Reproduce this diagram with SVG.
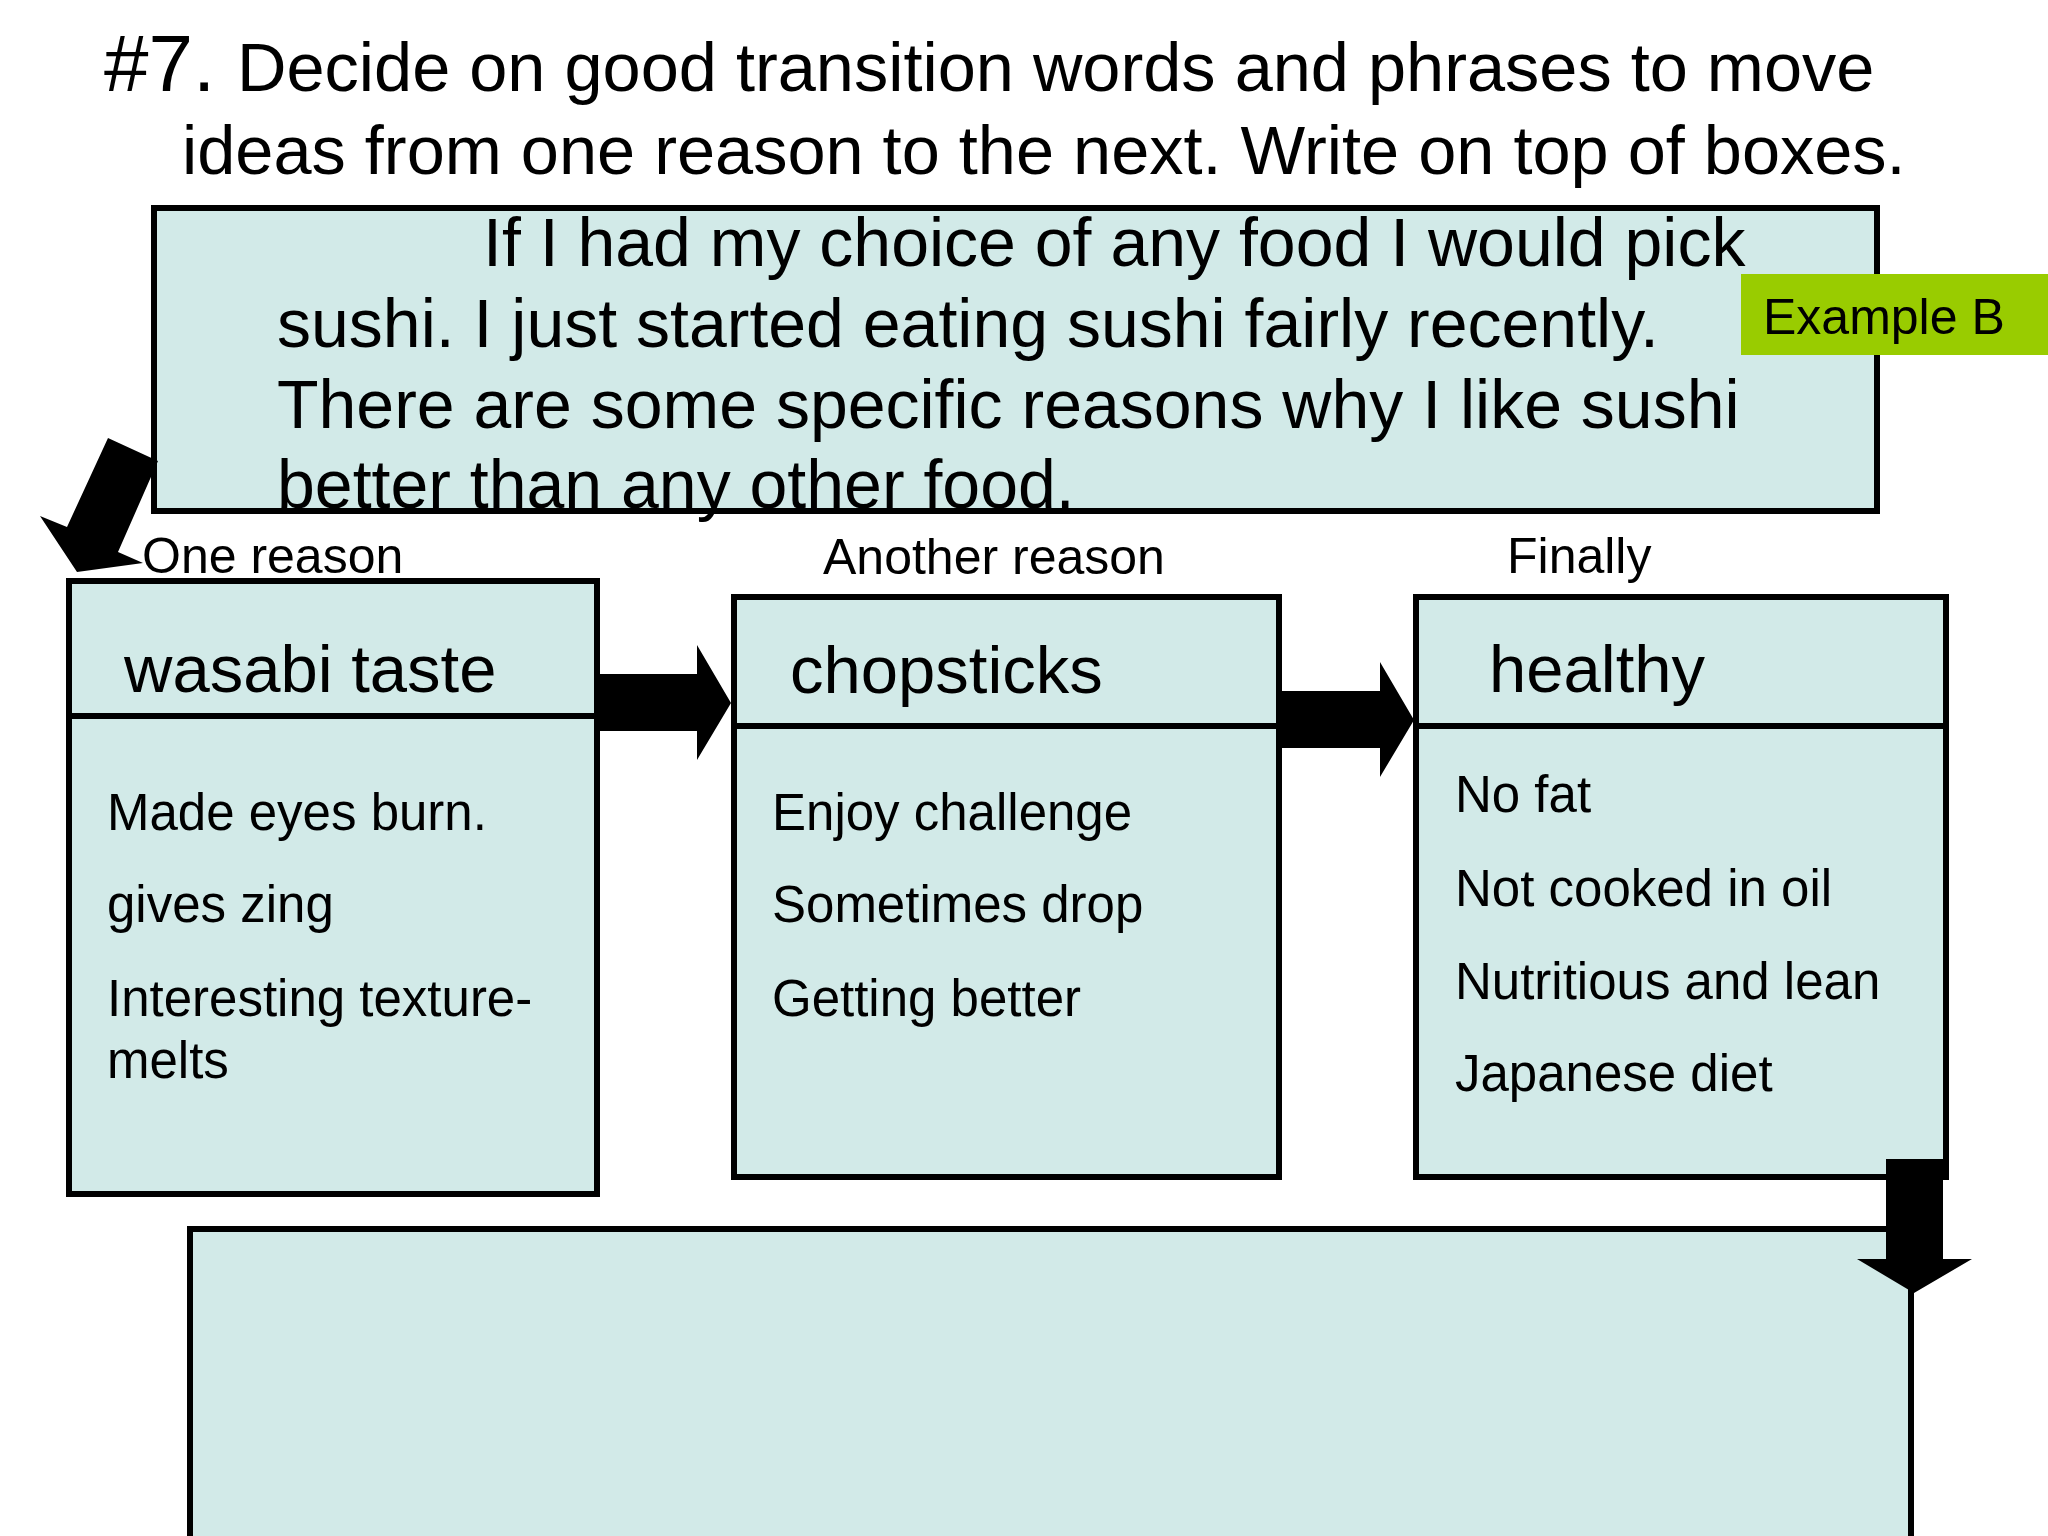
<svg xmlns="http://www.w3.org/2000/svg" width="2048" height="1536" viewBox="0 0 2048 1536">
<style>
text{font-family:"Liberation Sans",Arial,sans-serif;fill:#000}
.box{fill:#d2eae8;stroke:#000;stroke-width:6}
.div{stroke:#000;stroke-width:6}
.title{font-size:68.5px}
.para{font-size:68px}
.head{font-size:67px}
.item{font-size:51px}
.lbl{font-size:50px}
.arrow{fill:#000;stroke:none}
</style>
<rect width="2048" height="1536" fill="#fff"/>
<g id="title">
<text class="title" x="104" y="91"><tspan font-size="80">#7.</tspan><tspan x="237">Decide on good transition words and phrases to move</tspan></text>
<text class="title" x="182" y="174">ideas from one reason to the next. Write on top of boxes.</text>
</g>
<g id="intro">
<rect class="box" x="154" y="208" width="1723" height="303"/>
<text class="para" x="483" y="266">If I had my choice of any food I would pick</text>
<text class="para" x="277" y="347">sushi. I just started eating sushi fairly recently.</text>
<text class="para" x="277" y="428">There are some specific reasons why I like sushi</text>
<text class="para" x="277" y="508">better than any other food.</text>
</g>
<g id="example-b">
<rect x="1741" y="274" width="307" height="81" fill="#99cc00"/>
<text x="1763" y="334" font-size="50">Example B</text>
</g>
<g id="reason1">
<text class="lbl" x="142" y="573">One reason</text>
<rect class="box" x="69" y="581" width="528" height="613"/>
<line class="div" x1="69" y1="716" x2="597" y2="716"/>
<text class="head" x="124" y="692">wasabi taste</text>
<text class="item" x="107" y="830">Made eyes burn.</text>
<text class="item" x="107" y="922">gives zing</text>
<text class="item" x="107" y="1016">Interesting texture-</text>
<text class="item" x="107" y="1078">melts</text>
</g>
<g id="reason2">
<text class="lbl" x="823" y="574">Another reason</text>
<rect class="box" x="734" y="597" width="545" height="580"/>
<line class="div" x1="734" y1="726" x2="1279" y2="726"/>
<text class="head" x="790" y="693">chopsticks</text>
<text class="item" x="772" y="830">Enjoy challenge</text>
<text class="item" x="772" y="922">Sometimes drop</text>
<text class="item" x="772" y="1016">Getting better</text>
</g>
<g id="reason3">
<text class="lbl" x="1507" y="573">Finally</text>
<rect class="box" x="1416" y="597" width="530" height="580"/>
<line class="div" x1="1416" y1="726" x2="1946" y2="726"/>
<text class="head" x="1489" y="692">healthy</text>
<text class="item" x="1455" y="812">No fat</text>
<text class="item" x="1455" y="906">Not cooked in oil</text>
<text class="item" x="1455" y="999">Nutritious and lean</text>
<text class="item" x="1455" y="1091">Japanese diet</text>
</g>
<g id="conclusion">
<rect class="box" x="190" y="1229" width="1721" height="320"/>
</g>
<g id="connectors">
<polygon class="arrow" points="108,438 158,461 118,552 143,563 77,572 40,516 67,527"/>
<polygon class="arrow" points="598,674 697,674 697,645 731,703 697,760 697,731 598,731"/>
<polygon class="arrow" points="1282,691 1380,691 1380,662 1414,720 1380,777 1380,748 1282,748"/>
<polygon class="arrow" points="1886,1159 1943,1159 1943,1259 1972,1259 1914,1293 1857,1259 1886,1259"/>
</g>
</svg>
